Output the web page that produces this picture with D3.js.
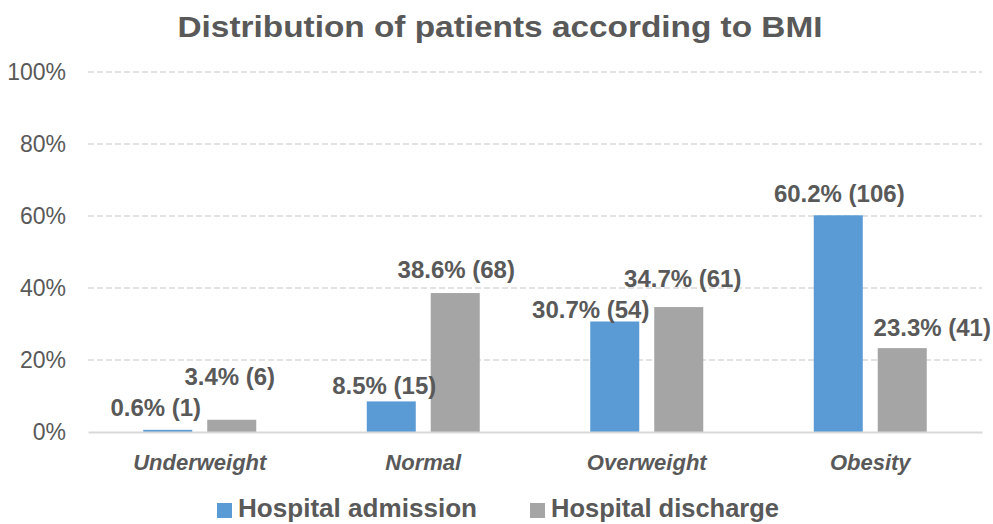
<!DOCTYPE html>
<html>
<head>
<meta charset="utf-8">
<script src="https://cdn.jsdelivr.net/npm/d3@7"></script>
<style>
  body { margin: 0; background: #fff; }
  text { font-family: "Liberation Sans", Arial, sans-serif; fill: #595959; }
</style>
</head>
<body>
<div id="chart"></div>
<script>
// values
const categories = ["Underweight", "Normal", "Overweight", "Obesity"]
const seriesNames = ["Hospital admission", "Hospital discharge"]
const admissionPct = [0.6, 8.5, 30.7, 60.2]
const admissionN = [1, 15, 54, 106]
const dischargePct = [3.4, 38.6, 34.7, 23.3]
const dischargeN = [6, 68, 61, 41]
const yTicks = [0, 20, 40, 60, 80, 100]

// manual label nudges (dx from bar centre, dy from bar top), like the moved labels in the original
const labelNudge = [
    [[-12, -22], [-2, -43]],
    [[-7, -16], [1, -24]],
    [[-24, -12], [4, -29]],
    [[1, -22], [30, -21]]
]

const colors = ["#5B9BD5", "#A5A5A5"]
const width = 993
const height = 524
const margin = {top: 72, right: 11, bottom: 92, left: 88}

const svg = d3.select("#chart")
    .append("svg")
    .attr("width", width)
    .attr("height", height)

const xScale = d3.scaleBand()
    .domain(categories)
    .range([margin.left, width - margin.right])

const xInner = d3.scaleBand()
    .domain([0, 1])
    .range([0, 113])
    .paddingInner(0.234)

const yScale = d3.scaleLinear()
    .domain([0, 100])
    .range([height - margin.bottom, margin.top])

// title
svg.append("text")
    .attr("x", 500)
    .attr("y", 37)
    .attr("text-anchor", "middle")
    .attr("font-size", 30)
    .attr("font-weight", "bold")
    .attr("textLength", 645)
    .attr("lengthAdjust", "spacingAndGlyphs")
    .text("Distribution of patients according to BMI")

// gridlines
svg.append("g")
    .selectAll("line")
    .data(yTicks.filter(d => d > 0))
    .enter()
    .append("line")
    .attr("x1", margin.left)
    .attr("x2", width - margin.right)
    .attr("y1", d => yScale(d))
    .attr("y2", d => yScale(d))
    .attr("stroke", "#D9D9D9")
    .attr("stroke-width", 1.3)
    .attr("stroke-dasharray", "6,3")

// y axis
const yAxis = d3.axisLeft(yScale)
    .tickValues(yTicks)
    .tickFormat(d => d + "%")
    .tickSize(0)
    .tickPadding(22)

const yG = svg.append("g")
    .attr("transform", `translate(${margin.left},0)`)
    .call(yAxis)
yG.select(".domain").remove()
yG.selectAll("text")
    .attr("font-size", 23)
    .attr("font-family", "Liberation Sans, Arial, sans-serif")
    .attr("fill", "#595959")

// bars
const rows = categories.map((c, i) => ({
    cat: c,
    i: i,
    vals: [
        {s: 0, pct: admissionPct[i], n: admissionN[i]},
        {s: 1, pct: dischargePct[i], n: dischargeN[i]}
    ]
}))

const groups = svg.append("g")
    .selectAll("g")
    .data(rows)
    .enter()
    .append("g")
    .attr("transform", d => `translate(${xScale(d.cat) + xScale.bandwidth() / 2 - 56.5},0)`)

groups.selectAll("rect")
    .data(d => d.vals)
    .enter()
    .append("rect")
    .attr("x", d => xInner(d.s))
    .attr("y", d => yScale(d.pct))
    .attr("width", xInner.bandwidth())
    .attr("height", d => yScale(0) - yScale(d.pct))
    .attr("fill", d => colors[d.s])

// x axis
const xAxis = d3.axisBottom(xScale)
    .tickSize(0)
    .tickSizeOuter(0)
    .tickPadding(22)

const xG = svg.append("g")
    .attr("transform", `translate(0,${yScale(0)})`)
    .call(xAxis)
xG.select(".domain")
    .attr("stroke", "#D9D9D9")
    .attr("stroke-width", 2)
xG.selectAll("text")
    .attr("font-size", 22)
    .attr("font-weight", "bold")
    .attr("font-style", "italic")
    .attr("font-family", "Liberation Sans, Arial, sans-serif")
    .attr("fill", "#595959")

// data labels
groups.each(function(row) {
    d3.select(this).selectAll("text.lbl")
        .data(row.vals)
        .enter()
        .append("text")
        .attr("class", "lbl")
        .attr("x", d => xInner(d.s) + xInner.bandwidth() / 2 + labelNudge[row.i][d.s][0])
        .attr("y", d => yScale(d.pct) + labelNudge[row.i][d.s][1])
        .attr("dy", "0.36em")
        .attr("text-anchor", "middle")
        .attr("font-size", 24)
        .attr("font-weight", "bold")
        .text(d => `${d.pct.toFixed(1)}% (${d.n})`)
})

// legend
const legendX = [217, 530]
const legend = svg.append("g")
    .selectAll("g")
    .data(seriesNames)
    .enter()
    .append("g")
    .attr("transform", (d, i) => `translate(${legendX[i]},503)`)

legend.append("rect")
    .attr("width", 15)
    .attr("height", 15)
    .attr("fill", (d, i) => colors[i])

legend.append("text")
    .attr("x", 21)
    .attr("y", 14)
    .attr("font-size", 25)
    .attr("font-weight", "bold")
    .attr("textLength", (d, i) => [239, 228][i])
    .attr("lengthAdjust", "spacingAndGlyphs")
    .text(d => d)
</script>
</body>
</html>
